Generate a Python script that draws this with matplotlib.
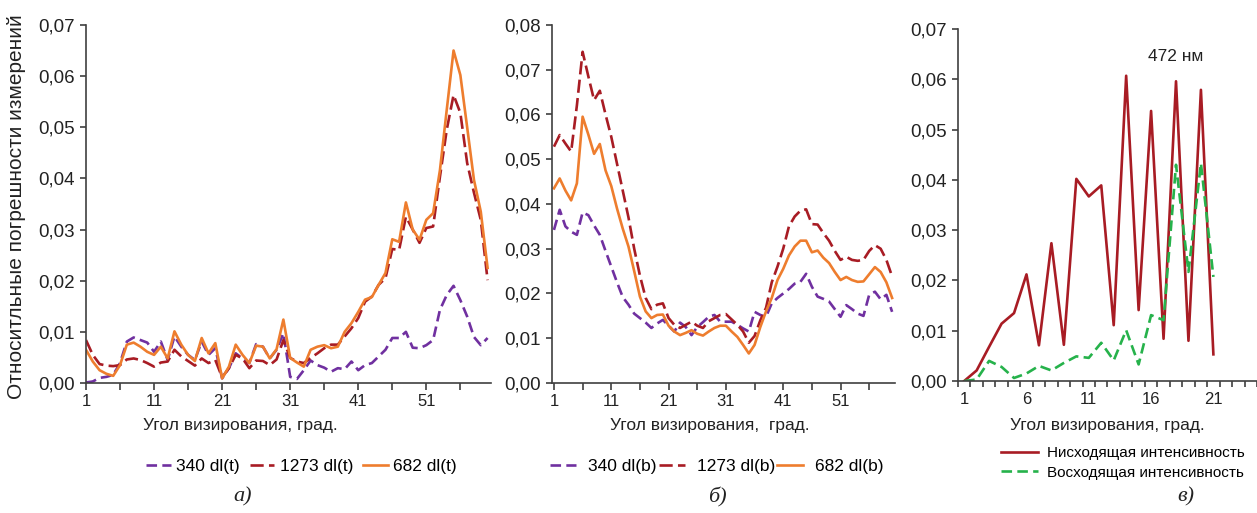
import numpy as np
import matplotlib
matplotlib.use("Agg")
import matplotlib.pyplot as plt
from matplotlib.ticker import FuncFormatter, FixedLocator

# --- data -------------------------------------------------------------
angles_60 = np.arange(1, 61)
angles_21 = np.arange(1, 22)

# panel a (dl(t))
a_340 = [0.0001, 0.0003, 0.0010, 0.0012, 0.0016, 0.0039, 0.0081, 0.0089, 0.0084, 0.0079,
         0.0061, 0.0081, 0.0045, 0.0091, 0.0071, 0.0055, 0.0045, 0.0081, 0.0055, 0.0068,
         0.0009, 0.0029, 0.0058, 0.0048, 0.0039, 0.0076, 0.0071, 0.0048, 0.0065, 0.0097,
         0.0012, 0.0008, 0.0025, 0.0044, 0.0035, 0.0030, 0.0022, 0.0029, 0.0027, 0.0042,
         0.0025, 0.0035, 0.0039, 0.0052, 0.0065, 0.0088, 0.0088, 0.0100, 0.0069, 0.0068,
         0.0074, 0.0084, 0.0143, 0.0172, 0.0190, 0.0162, 0.0130, 0.0090, 0.0074, 0.0088]
a_1273 = [0.0084, 0.0055, 0.0037, 0.0034, 0.0033, 0.0035, 0.0046, 0.0048, 0.0045, 0.0039,
          0.0032, 0.0040, 0.0042, 0.0065, 0.0052, 0.0043, 0.0034, 0.0048, 0.0039, 0.0045,
          0.0011, 0.0029, 0.0055, 0.0048, 0.0029, 0.0044, 0.0043, 0.0035, 0.0046, 0.0084,
          0.0049, 0.0042, 0.0039, 0.0049, 0.0058, 0.0068, 0.0075, 0.0075, 0.0091, 0.0107,
          0.0127, 0.0159, 0.0169, 0.0192, 0.0205, 0.0262, 0.0260, 0.0325, 0.0300, 0.0274,
          0.0303, 0.0306, 0.0403, 0.0495, 0.0563, 0.0528, 0.0430, 0.0372, 0.0319, 0.0201]
a_682 = [0.0065, 0.0042, 0.0025, 0.0018, 0.0014, 0.0035, 0.0075, 0.0079, 0.0071, 0.0061,
         0.0055, 0.0071, 0.0048, 0.0101, 0.0075, 0.0055, 0.0043, 0.0088, 0.0058, 0.0078,
         0.0009, 0.0032, 0.0075, 0.0055, 0.0039, 0.0073, 0.0071, 0.0048, 0.0066, 0.0124,
         0.0049, 0.0040, 0.0032, 0.0065, 0.0071, 0.0074, 0.0068, 0.0071, 0.0100, 0.0117,
         0.0139, 0.0163, 0.0168, 0.0192, 0.0215, 0.0281, 0.0276, 0.0353, 0.0300, 0.0280,
         0.0319, 0.0332, 0.0416, 0.0534, 0.0650, 0.0602, 0.0500, 0.0397, 0.0335, 0.0225]

# panel b (dl(b))
b_340 = [0.0342, 0.0387, 0.0350, 0.0338, 0.0331, 0.0381, 0.0375, 0.0352, 0.0331, 0.0295,
         0.0260, 0.0225, 0.0192, 0.0175, 0.0155, 0.0145, 0.0135, 0.0123, 0.0133, 0.0141,
         0.0128, 0.0115, 0.0135, 0.0125, 0.0107, 0.0125, 0.0136, 0.0148, 0.0152, 0.0137,
         0.0137, 0.0137, 0.0130, 0.0122, 0.0115, 0.0159, 0.0152, 0.0148, 0.0178, 0.0190,
         0.0200, 0.0210, 0.0222, 0.0226, 0.0244, 0.0215, 0.0193, 0.0188, 0.0182, 0.0165,
         0.0148, 0.0174, 0.0165, 0.0155, 0.0150, 0.0197, 0.0204, 0.0187, 0.0197, 0.0159]
b_1273 = [0.0528, 0.0554, 0.0535, 0.0517, 0.0620, 0.0740, 0.0685, 0.0632, 0.0653, 0.0600,
          0.0550, 0.0490, 0.0430, 0.0370, 0.0300, 0.0240, 0.0190, 0.0165, 0.0175, 0.0178,
          0.0145, 0.0130, 0.0123, 0.0130, 0.0137, 0.0128, 0.0123, 0.0138, 0.0145, 0.0152,
          0.0154, 0.0142, 0.0130, 0.0115, 0.0090, 0.0105, 0.0140, 0.0168, 0.0225, 0.0260,
          0.0300, 0.0350, 0.0372, 0.0385, 0.0388, 0.0355, 0.0354, 0.0335, 0.0318, 0.0295,
          0.0275, 0.0282, 0.0275, 0.0273, 0.0275, 0.0295, 0.0308, 0.0300, 0.0275, 0.0238]
b_682 = [0.0435, 0.0457, 0.0430, 0.0408, 0.0446, 0.0595, 0.0555, 0.0512, 0.0534, 0.0475,
         0.0440, 0.0390, 0.0345, 0.0305, 0.0250, 0.0193, 0.0160, 0.0145, 0.0152, 0.0153,
         0.0128, 0.0115, 0.0107, 0.0112, 0.0118, 0.0110, 0.0106, 0.0115, 0.0123, 0.0128,
         0.0128, 0.0115, 0.0103, 0.0085, 0.0066, 0.0085, 0.0125, 0.0160, 0.0190, 0.0230,
         0.0255, 0.0285, 0.0305, 0.0318, 0.0318, 0.0292, 0.0296, 0.0280, 0.0268, 0.0248,
         0.0230, 0.0237, 0.0230, 0.0226, 0.0227, 0.0243, 0.0259, 0.0248, 0.0225, 0.0190]

# panel c (472 nm)
c_down = [0.0000, 0.0021, 0.0068, 0.0114, 0.0135, 0.0212, 0.0071, 0.0274, 0.0072, 0.0402,
          0.0367, 0.0389, 0.0111, 0.0607, 0.0141, 0.0537, 0.0084, 0.0596, 0.0080, 0.0579,
          0.0053]
c_up = [0.0000, 0.0003, 0.0040, 0.0028, 0.0006, 0.0015, 0.0030, 0.0021, 0.0036, 0.0049,
        0.0046, 0.0076, 0.0041, 0.0101, 0.0033, 0.0131, 0.0121, 0.0430, 0.0217, 0.0433,
        0.0207]

PURPLE = '#7030A0'
RED = '#A81C24'
ORANGE = '#EE7D2E'
GREEN = '#26B24B'
AXC = '#404040'
TXT = '#222222'

plt.rcParams['font.family'] = ['Liberation Sans', 'DejaVu Sans']

fig = plt.figure(figsize=(12.57, 5.13), dpi=100)

comma_fmt = FuncFormatter(lambda v, p: f"{v:.2f}".replace('.', ','))


def style_axes(ax, ymax):
    for s in ['top', 'right']:
        ax.spines[s].set_visible(False)
    for s in ['left', 'bottom']:
        ax.spines[s].set_color(AXC)
        ax.spines[s].set_linewidth(1.2)
    ax.set_ylim(0, ymax)
    ax.yaxis.set_major_locator(FixedLocator(np.arange(0, ymax + 1e-9, 0.01)))
    ax.yaxis.set_major_formatter(comma_fmt)
    ax.tick_params(axis='y', length=4, width=1.2, color=AXC, labelsize=13.5,
                   labelcolor=TXT, pad=4)
    ax.tick_params(axis='x', which='both', length=5, width=1.2, color=AXC)


def wide_xaxis(ax, left, right):
    ax.set_xlim(left, right)
    ax.set_xticks([1, 11, 21, 31, 41, 51])
    ax.set_xticks(np.arange(6, 61, 10), minor=True)
    ax.set_xticklabels([str(v) for v in [1, 11, 21, 31, 41, 51]], fontsize=12, color=TXT)
    ax.tick_params(axis='x', which='major', pad=3)


lw = 1.9
leg_font = {'size': 12.5}

# ---- panel a ----
ax1 = fig.add_axes([0.0684, 0.2534, 0.3222, 0.698])
ax1.plot(angles_60, a_340, color=PURPLE, lw=lw, dashes=(4, 2), label='340 dl(t)')
ax1.plot(angles_60, a_1273, color=RED, lw=lw, dashes=(5, 2), label='1273 dl(t)')
ax1.plot(angles_60, a_682, color=ORANGE, lw=lw, label='682 dl(t)')
style_axes(ax1, 0.07)
wide_xaxis(ax1, 1, 60.5)
ax1.set_xlabel('Угол визирования, град.', fontsize=12.5, color=TXT)
ax1.xaxis.set_label_coords(0.38, -0.098)
ax1.legend(loc='center', bbox_to_anchor=(0.532, -0.232), ncol=3, frameon=False,
           prop=leg_font, handlelength=1.4, handletextpad=0.3, columnspacing=0.6,
           borderpad=0, borderaxespad=0)
fig.text(0.0135, 0.598, 'Относитльные погрешности измерений', rotation=90,
         ha='center', va='center', fontsize=15, color=TXT)

# ---- panel b ----
ax2 = fig.add_axes([0.4391, 0.2534, 0.2729, 0.698])
ax2.plot(angles_60, b_340, color=PURPLE, lw=lw, dashes=(4, 2), label='340 dl(b)')
ax2.plot(angles_60, b_1273, color=RED, lw=lw, dashes=(5, 2), label='1273 dl(b)')
ax2.plot(angles_60, b_682, color=ORANGE, lw=lw, label='682 dl(b)')
style_axes(ax2, 0.08)
wide_xaxis(ax2, 0.65, 60.5)
ax2.set_xlabel('Угол визирования,  град.', fontsize=12.5, color=TXT)
ax2.xaxis.set_label_coords(0.46, -0.098)
ax2.legend(loc='center', bbox_to_anchor=(0.481, -0.232), ncol=3, frameon=False,
           prop=leg_font, handlelength=1.5, handletextpad=0.7, columnspacing=0.1,
           borderpad=0, borderaxespad=0)

# ---- panel c ----
ax3 = fig.add_axes([0.7621, 0.2573, 0.2379, 0.6862])
ax3.plot(angles_21, c_down, color=RED, lw=lw, label='Нисходящая интенсивность')
ax3.plot(angles_21, c_up, color=GREEN, lw=lw, dashes=(4, 2), label='Восходящая интенсивность')
style_axes(ax3, 0.07)
ax3.set_xlim(0.55, 24.3)
ax3.set_xticks([1, 6, 11, 16, 21])
ax3.set_xticklabels(['1', '6', '11', '16', '21'], fontsize=12, color=TXT)
ax3.set_xticks(np.arange(0.5, 25, 1), minor=True)
ax3.tick_params(axis='x', which='major', length=0, pad=8)
ax3.tick_params(axis='x', which='minor', length=4)
ax3.set_xlabel('Угол визирования, град.', fontsize=12.5, color=TXT)
ax3.xaxis.set_label_coords(0.5, -0.105)
ax3.text(18.0, 0.0645, '472 нм', ha='center', va='center', fontsize=12.5, color=TXT)
ax3.legend(loc='center', bbox_to_anchor=(0.552, -0.233), ncol=1, frameon=False,
           prop={'size': 11}, handlelength=2.4, handletextpad=0.6, labelspacing=0.35,
           borderpad=0, borderaxespad=0)

# panel letters
for x, s in [(0.193, 'а)'), (0.571, 'б)'), (0.943, 'в)')]:
    fig.text(x, 0.031, s, ha='center', va='center', family='Liberation Serif',
             style='italic', fontsize=16, color=TXT)

fig.savefig('out.png', dpi=100)
